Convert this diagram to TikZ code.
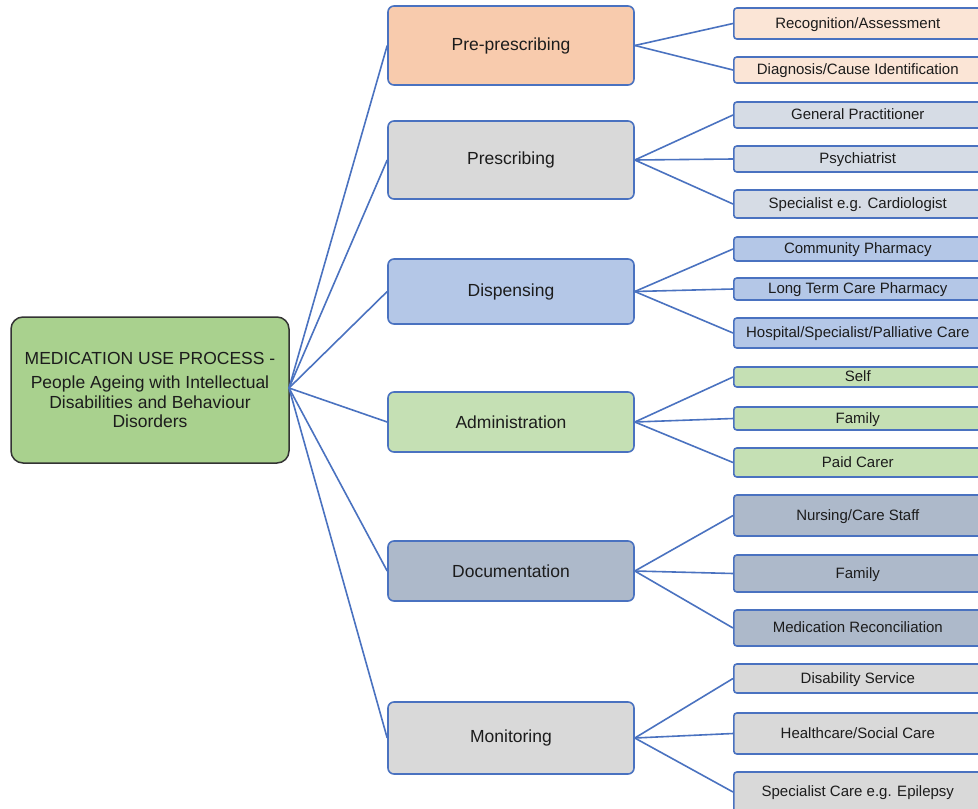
\documentclass[tikz,border=0pt]{standalone}
\usepackage{fontspec}
\setmainfont{Liberation Sans}
\definecolor{linkblue}{HTML}{4A72C0}
\definecolor{rootfill}{HTML}{A9D18E}
\definecolor{peach}{HTML}{F8CBAD}
\definecolor{peachlight}{HTML}{FBE5D6}
\definecolor{greyfill}{HTML}{D9D9D9}
\definecolor{steellight}{HTML}{D6DCE5}
\definecolor{bluefill}{HTML}{B4C7E7}
\definecolor{greenfill}{HTML}{C5E0B4}
\definecolor{slatefill}{HTML}{ADB9CA}
\definecolor{inkdark}{HTML}{1C1C1C}
\begin{document}
\begin{tikzpicture}[x=1pt,y=-1pt,
  rootbox/.style={draw=black!80, line width=1.5pt, fill=rootfill, rounded corners=12pt,
    minimum width=278pt, minimum height=146pt, inner sep=0pt, align=center, text=inkdark,
    font=\fontsize{17.5}{19.6}\selectfont},
  stagebox/.style={draw=linkblue, line width=1.6pt, rounded corners=6pt,
    minimum width=246pt, inner sep=0pt, text=inkdark, font=\fontsize{17.5}{20}\selectfont},
  leafbox/.style={draw=linkblue, line width=1.6pt, rounded corners=3pt, anchor=west,
    minimum width=248pt, inner sep=0pt, text=inkdark, text height=11pt, text depth=2pt,
    font=\fontsize{15}{17}\selectfont},
  link/.style={draw=linkblue, line width=1.6pt}]
\clip (0,0) rectangle (978,809);
\fill[white] (0,0) rectangle (978,809);

% root
\node[rootbox] (root) at (150,390) {MEDICATION USE PROCESS -\\[5pt]People Ageing with Intellectual\\Disabilities and Behaviour\\Disorders};
\coordinate (hub) at (289,388);

% stages
\node[stagebox, fill=peach,     minimum height=79pt] (pre)  at (511,45.5) {Pre-prescribing};
\node[stagebox, fill=greyfill,  minimum height=78pt] (pres) at (511,160)  {Prescribing};
\node[stagebox, fill=bluefill,  minimum height=65pt] (disp) at (511,291.5){Dispensing};
\node[stagebox, fill=greenfill, minimum height=60pt] (adm)  at (511,422)  {Administration};
\node[stagebox, fill=slatefill, minimum height=60pt] (doc)  at (511,571)  {Documentation};
\node[stagebox, fill=greyfill,  minimum height=72pt] (mon)  at (511,738)  {Monitoring};

% leaves
\node[leafbox, fill=peachlight, minimum height=31pt] (l1)  at (733,23.5)  {Recognition/Assessment};
\node[leafbox, fill=peachlight, minimum height=26pt] (l2)  at (733,70)    {Diagnosis/Cause Identification};
\node[leafbox, fill=steellight, minimum height=26pt] (l3)  at (733,115)   {General Practitioner};
\node[leafbox, fill=steellight, minimum height=26pt] (l4)  at (733,159)   {Psychiatrist};
\node[leafbox, fill=steellight, minimum height=28pt] (l5)  at (733,204)   {Specialist e.g. Cardiologist};
\node[leafbox, fill=bluefill,   minimum height=24pt] (l6)  at (733,249)   {Community Pharmacy};
\node[leafbox, fill=bluefill,   minimum height=22pt] (l7)  at (733,289)   {Long Term Care Pharmacy};
\node[leafbox, fill=bluefill,   minimum height=30pt] (l8)  at (733,333)   {Hospital/Specialist/Palliative Care};
\node[leafbox, fill=greenfill,  minimum height=20pt] (l9)  at (733,377)   {Self};
\node[leafbox, fill=greenfill,  minimum height=23pt] (l10) at (733,418.5) {Family};
\node[leafbox, fill=greenfill,  minimum height=29pt] (l11) at (733,462.5) {Paid Carer};
\node[leafbox, fill=slatefill,  minimum height=41pt] (l12) at (733,515.5) {Nursing/Care Staff};
\node[leafbox, fill=slatefill,  minimum height=37pt] (l13) at (733,573.5) {Family};
\node[leafbox, fill=slatefill,  minimum height=36pt] (l14) at (733,628)   {Medication Reconciliation};
\node[leafbox, fill=greyfill,   minimum height=29pt] (l15) at (733,678.5) {Disability Service};
\node[leafbox, fill=greyfill,   minimum height=41pt] (l16) at (733,733.5) {Healthcare/Social Care};
\node[leafbox, fill=greyfill,   minimum height=40pt] (l17) at (733,792)   {Specialist Care e.g. Epilepsy};

% connectors from the root to each stage
\foreach \s in {pre,pres,disp,adm,doc,mon}
  \draw[link] (hub) -- (\s.west);

% connectors from stages to leaves
\foreach \s/\l in {pre/l1,pre/l2,pres/l3,pres/l4,pres/l5,disp/l6,disp/l7,disp/l8,
                   adm/l9,adm/l10,adm/l11,doc/l12,doc/l13,doc/l14,mon/l15,mon/l16,mon/l17}
  \draw[link] (\s.east) -- (\l.west);
\end{tikzpicture}
\end{document}
